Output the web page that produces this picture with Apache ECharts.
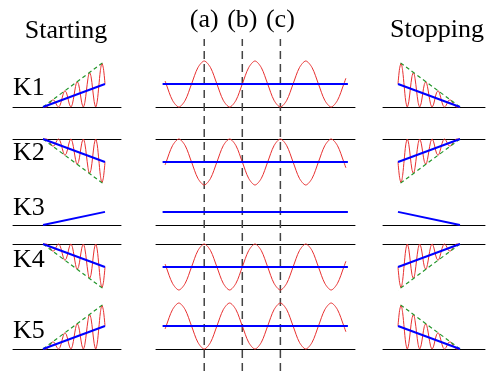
<!DOCTYPE html>
<html><head><meta charset="utf-8">
<script src="https://cdn.jsdelivr.net/npm/echarts@6/dist/echarts.min.js"></script>
<style>html,body{margin:0;padding:0;background:#fff}#c{width:486px;height:371px}</style>
</head><body><div id="c"></div>
<script>
// ---------- data ----------
const rowLabels = ['K1', 'K2', 'K3', 'K4', 'K5'];
const columnTitles = ['Starting', 'Stopping'];
const markLabels = ['(a)', '(b)', '(c)'];
const markTimes = [0.5, 1.25, 2.0];          // time (periods) of the dashed markers

// start / stop ramp waveform: time (ramp units) and distance from base line (amplitude units)
const rampTimes = [0,0.125,0.25,0.375,0.5,0.625,0.75,0.875,1,1.125,1.25,1.375,1.5,1.625,1.75,1.875,2,2.125,2.25,2.375,2.5,2.625,2.75,2.875,3,3.125,3.25,3.375,3.5,3.625,3.75,3.875,4,4.125,4.25,4.375,4.5,4.625,4.75,4.875,5];
const rampValues = [0,0.007,0,0.022,0.1,0.213,0.3,0.299,0.2,0.066,0,0.081,0.3,0.555,0.7,0.64,0.4,0.125,0,0.139,0.5,0.896,1.1,0.982,0.6,0.183,0,0.198,0.7,1.238,1.5,1.323,0.8,0.242,0,0.256,0.9,1.579,1.9,1.664,1.0];
const rampCenter = [[0, 0], [5, 1]];
const rampEnvelope = [[0, 0], [5, 2]];
const k3Ramp = [[0, 0], [5, 0.57]];

// steady-state waveform: time (periods) and distance from base line
const steadyTimes = [-0.27,-0.25,-0.125,0,0.125,0.25,0.375,0.5,0.625,0.75,0.875,1,1.125,1.25,1.375,1.5,1.625,1.75,1.875,2,2.125,2.25,2.375,2.5,2.625,2.75,2.875,3,3.125,3.25,3.29];
const steadyA = [1.13,1,0.29,0,0.29,1,1.71,2,1.71,1,0.29,0,0.29,1,1.71,2,1.71,1,0.29,0,0.29,1,1.71,2,1.71,1,0.29,0,0.29,1,1.25];
const steadyB = [0.87,1,1.71,2,1.71,1,0.29,0,0.29,1,1.71,2,1.71,1,0.29,0,0.29,1,1.71,2,1.71,1,0.29,0,0.29,1,1.71,2,1.71,1,0.75];
const steadyCenter = [[-0.32, 1], [3.33, 1]];
const k3Steady = [[-0.32, 0.57], [3.33, 0.57]];

// ---------- build ----------
const zip = (xs, ys) => xs.map((x, i) => [x, ys[i]]);
const rampWave = zip(rampTimes, rampValues);
const waveA = zip(steadyTimes, steadyA);
const waveB = zip(steadyTimes, steadyB);
const steadyRows = [waveA, waveA, null, waveB, waveB];

const FONT = 'Liberation Serif';
const RED = '#e83030', BLUE = '#0000ff', GREEN = '#23962a';
const rowFlip = [false, true, false, true, false];
const rowTop = [61, 139, 179, 244, 303];
const rowH = 46;
const cols = [
  { left: 13, width: 108, min: -2.42, max: 6.29, inverse: false, kind: 'ramp' },
  { left: 156, width: 199, min: -0.45, max: 3.47, inverse: false, kind: 'steady' },
  { left: 383, width: 102, min: -2.02, max: 6.21, inverse: true, kind: 'ramp' }
];

const grid = [], xAxis = [], yAxis = [], series = [];
function line(g, data, color, width, type, z) {
  series.push({ type: 'line', xAxisIndex: g, yAxisIndex: g, data: data, showSymbol: false,
    symbol: 'none', clip: false, silent: true, z: z,
    smooth: 0.3, lineStyle: { color: color, width: width, type: type || 'solid' } });
}
rowLabels.forEach((lab, r) => {
  cols.forEach((c) => {
    const g = grid.length;
    grid.push({ left: c.left, width: c.width, top: rowTop[r], height: rowH, containLabel: false });
    xAxis.push({ gridIndex: g, type: 'value', min: c.min, max: c.max, inverse: c.inverse,
      position: rowFlip[r] ? 'top' : 'bottom',
      axisLine: { show: true, onZero: false, lineStyle: { color: '#000', width: 1 } },
      axisTick: { show: false }, axisLabel: { show: false }, splitLine: { show: false } });
    yAxis.push({ gridIndex: g, type: 'value', min: 0, max: 2, inverse: rowFlip[r], show: false });
    if (c.kind === 'ramp') {
      if (r === 2) {
        line(g, k3Ramp, BLUE, 2, 'solid', 4);
      } else {
        line(g, rampWave, RED, 1, 'solid', 2);
        line(g, rampEnvelope, GREEN, 1.2, [4, 3], 3);
        line(g, rampCenter, BLUE, 2, 'solid', 4);
      }
    } else {
      if (r === 2) {
        line(g, k3Steady, BLUE, 2, 'solid', 4);
      } else {
        line(g, steadyRows[r], RED, 1, 'solid', 2);
        line(g, steadyCenter, BLUE, 2, 'solid', 4);
      }
    }
  });
});

// dashed marker grid
const dg = grid.length;
grid.push({ left: 156, width: 199, top: 39, bottom: 0 });
xAxis.push({ gridIndex: dg, type: 'value', min: -0.45, max: 3.47, position: 'top',
  axisLine: { show: false }, axisTick: { show: false }, splitLine: { show: false },
  axisLabel: { show: true, customValues: markTimes, margin: 6,
    formatter: (v) => { const i = markTimes.findIndex(m => Math.abs(m - v) < 1e-6); return i >= 0 ? markLabels[i] : ''; },
    fontFamily: FONT, fontSize: 26, color: '#000' } });
yAxis.push({ gridIndex: dg, type: 'value', min: 0, max: 1, show: false });
markTimes.forEach((t) => {
  series.push({ type: 'line', xAxisIndex: dg, yAxisIndex: dg, data: [[t, 0], [t, 1]],
    showSymbol: false, symbol: 'none', clip: false, silent: true, z: 1,
    lineStyle: { color: '#444', width: 1.5, type: [8, 5] } });
});

const textEl = (s, x, y, align) => ({ type: 'text', x: x, y: y,
  style: { text: s, fill: '#000', fontFamily: FONT, fontSize: 26, align: align, verticalAlign: 'middle' } });
const graphic = [
  textEl(columnTitles[0], 66, 31, 'center'),
  textEl(columnTitles[1], 437, 30, 'center')
];
const labelY = [88, 153.5, 208, 260.5, 331.5];
rowLabels.forEach((lab, r) => graphic.push(textEl(lab, 13, labelY[r], 'left')));

const chart = echarts.init(document.getElementById('c'), null, { renderer: 'canvas', width: 486, height: 371 });
chart.setOption({ animation: false, backgroundColor: '#fff', grid, xAxis, yAxis, series, graphic });
</script></body></html>
